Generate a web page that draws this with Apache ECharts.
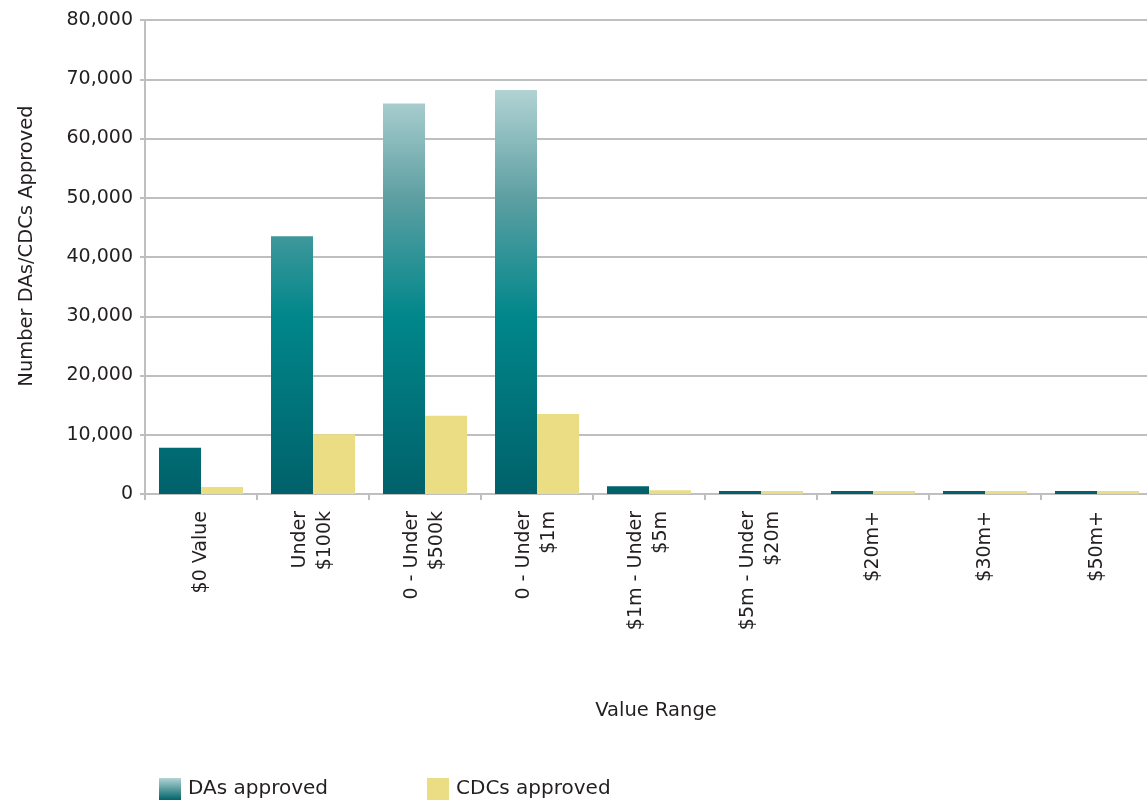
<!DOCTYPE html>
<html>
<head>
<meta charset="utf-8">
<script src="https://cdn.jsdelivr.net/npm/echarts@6/dist/echarts.min.js"></script>
<style>
  html, body { margin: 0; padding: 0; background: #fff; }
  #chart { width: 1147px; height: 800px; }
</style>
</head>
<body>
<div id="chart"></div>
<script>
// Development approvals by value range
const categories = [
  '$0 Value',
  'Under\n$100k',
  '0 - Under\n$500k',
  '0 - Under\n$1m',
  '$1m - Under\n$5m',
  '$5m - Under\n$20m',
  '$20m+',
  '$30m+',
  '$50m+'
];
const daApproved  = [7800, 43500, 65900, 68200, 1300, 500, 500, 500, 500];
const cdcApproved = [1200, 10100, 13200, 13500, 650, 500, 500, 500, 500];
const yMin = 0;
const yMax = 80000;
const yStep = 10000;

const FONT = 'DejaVu Sans';
const TEXT = '#231f20';
const GRID = '#bfbfbf';
const CDC_COLOR = '#ebdd84';

const chart = echarts.init(document.getElementById('chart'), null, { renderer: 'canvas' });

const option = {
  animation: false,
  backgroundColor: '#ffffff',
  textStyle: { fontFamily: FONT, color: TEXT },
  grid: {
    left: 145, right: -6, top: 20, bottom: 306,
    containLabel: false,
    outerBoundsMode: 'none'
  },
  legend: {
    left: 154,
    top: 773,
    itemWidth: 22,
    itemHeight: 22,
    itemGap: 99,
    icon: 'rect',
    textStyle: { fontFamily: FONT, fontSize: 20, color: TEXT, padding: [0, 0, 0, 2] },
    data: [
      {
        name: 'DAs approved',
        itemStyle: {
          color: { type: 'linear', x: 0, y: 0, x2: 0, y2: 1,
            colorStops: [ { offset: 0, color: '#b3d4d5' }, { offset: 1, color: '#00646a' } ] }
        }
      },
      { name: 'CDCs approved', itemStyle: { color: CDC_COLOR } }
    ]
  },
  xAxis: {
    type: 'category',
    data: categories,
    name: 'Value Range',
    nameLocation: 'middle',
    nameGap: 207,
    nameTextStyle: { fontFamily: FONT, fontSize: 19.5, color: TEXT, padding: [0, 0, 0, 14] },
    axisLine: { show: true, lineStyle: { color: GRID, width: 2 } },
    axisTick: { show: true, length: 6, lineStyle: { color: GRID, width: 2 } },
    axisLabel: {
      interval: 0,
      rotate: 90,
      margin: 17,
      fontFamily: FONT,
      fontSize: 19,
      lineHeight: 25,
      color: TEXT
    },
    splitLine: { show: false }
  },
  yAxis: {
    type: 'value',
    min: yMin,
    max: yMax,
    interval: yStep,
    name: 'Number DAs/CDCs Approved',
    nameLocation: 'middle',
    nameGap: 108,
    nameTextStyle: { fontFamily: FONT, fontSize: 19.5, color: TEXT, padding: [0, 0, 0, 22] },
    axisLine: { show: true, lineStyle: { color: GRID, width: 2 } },
    axisTick: { show: true, length: 5, lineStyle: { color: GRID, width: 2 } },
    axisLabel: {
      margin: 12,
      fontFamily: FONT,
      fontSize: 19,
      color: TEXT,
      formatter: v => v.toLocaleString('en-US')
    },
    splitLine: { show: true, lineStyle: { color: GRID, width: 2 } }
  },
  series: [
    {
      id: 'da',
      name: 'DAs approved',
      type: 'bar',
      data: daApproved,
      barGap: '0%',
      barCategoryGap: '25%',
      itemStyle: { color: '#00646a' }
    },
    {
      id: 'cdc',
      name: 'CDCs approved',
      type: 'bar',
      data: cdcApproved,
      barGap: '0%',
      barCategoryGap: '25%',
      itemStyle: { color: CDC_COLOR }
    }
  ]
};

chart.setOption(option);

// DA bars share one vertical gradient tied to the value scale:
// dark at zero, full teal near 30,000, pale towards the top of the axis.
const yTopPx = chart.convertToPixel({ yAxisIndex: 0 }, yMax);
const yBotPx = chart.convertToPixel({ yAxisIndex: 0 }, yMin);
const stopAt = v => 1 - (v - yMin) / (yMax - yMin);
chart.setOption({
  series: [{
    id: 'da',
    itemStyle: {
      color: {
        type: 'linear', global: true,
        x: 0, y: yTopPx, x2: 0, y2: yBotPx,
        colorStops: [
          { offset: stopAt(80000), color: '#c6e0e1' },
          { offset: stopAt(68000), color: '#b1d2d3' },
          { offset: stopAt(50000), color: '#5d9fa2' },
          { offset: stopAt(30000), color: '#00878b' },
          { offset: stopAt(0),     color: '#00616a' }
        ]
      }
    }
  }]
});
</script>
</body>
</html>
